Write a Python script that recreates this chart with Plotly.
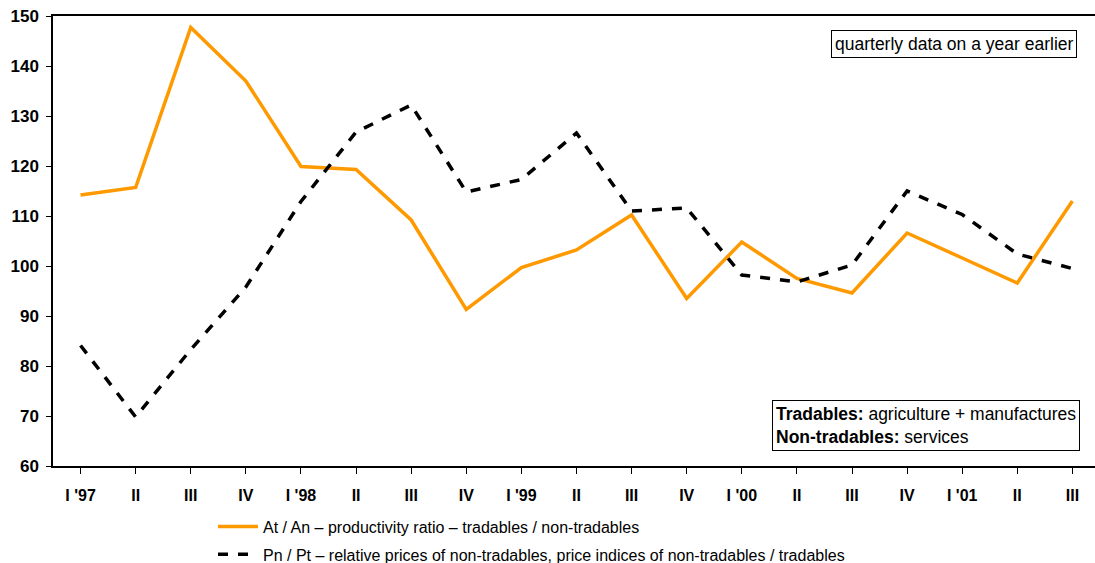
import plotly.graph_objects as go

# Quarterly categories, 1997 Q1 to 2001 Q3
quarters = ["I '97", "II", "III", "IV", "I '98", "II", "III", "IV", "I '99", "II",
            "III", "IV", "I '00", "II", "III", "IV", "I '01", "II", "III"]

# At / An productivity ratio (same quarter a year earlier = 100)
productivity_ratio = [114.2, 115.7, 147.7, 137.0, 119.9, 119.3, 109.2, 91.3, 99.7, 103.2,
                      110.2, 93.5, 104.8, 97.5, 94.6, 106.6, 101.6, 96.6, 113.0]

# Pn / Pt relative prices of non-tradables
relative_prices = [84.1, 69.8, 83.3, 95.8, 112.9, 126.8, 132.2, 114.8, 117.3, 126.6,
                   111.0, 111.6, 98.2, 96.8, 100.2, 115.0, 110.3, 102.4, 99.5]

y_ticks = [60, 70, 80, 90, 100, 110, 120, 130, 140, 150]

idx = list(range(len(quarters)))

fig = go.Figure()
fig.add_trace(go.Scatter(
    x=idx, y=productivity_ratio, mode="lines", legendgroup="a",
    name="At / An \u2013 productivity ratio \u2013 tradables / non-tradables",
    line=dict(color="#FF9900", width=3.5),
))
fig.add_trace(go.Scatter(
    x=idx, y=relative_prices, mode="lines", legendgroup="b",
    name="Pn / Pt \u2013 relative prices of non-tradables, price indices of non-tradables / tradables",
    line=dict(color="#000000", width=3.5, dash="10px,10px"),
))

fig.update_layout(
    width=1095, height=563,
    margin=dict(l=53, r=0, t=16, b=97, autoexpand=False),
    paper_bgcolor="white", plot_bgcolor="white",
    font=dict(family="Liberation Sans, Arial, sans-serif", color="black"),
    showlegend=True,
    legend=dict(
        x=(213 - 53) / 1042, xanchor="left",
        y=-0.097, yanchor="top",
        font=dict(family="Liberation Sans, Arial", size=16),
        bgcolor="rgba(0,0,0,0)", tracegroupgap=4,
        itemwidth=40,
    ),
    xaxis=dict(
        range=[-0.5, 18.41],
        tickmode="array", tickvals=idx, ticktext=quarters,
        tickson="boundaries",
        ticks="outside", ticklen=6, tickcolor="black", tickwidth=1,
        ticklabelstandoff=8,
        showline=True, linecolor="black", linewidth=1.5, mirror=True,
        showgrid=False, zeroline=False,
        tickfont=dict(family="Liberation Sans, Arial", size=16, color="black", weight="bold"),
    ),
    yaxis=dict(
        range=[60, 150], tickvals=y_ticks,
        ticks="outside", ticklen=5, tickcolor="black", tickwidth=1,
        ticklabelstandoff=4,
        showline=True, linecolor="black", linewidth=1.5,
        showgrid=False, zeroline=False,
        tickfont=dict(family="Liberation Sans, Arial", size=17, color="black", weight="bold"),
    ),
)

fig.add_annotation(
    xref="paper", yref="paper", x=(1077 - 53) / 1042, y=1 - (30 - 16) / 450,
    xanchor="right", yanchor="top", showarrow=False,
    text="quarterly data on a year earlier",
    font=dict(family="Liberation Sans, Arial", size=17.5, color="black"),
    bordercolor="black", borderwidth=1, borderpad=3, bgcolor="white",
)
fig.add_annotation(
    xref="paper", yref="paper", x=(772 - 53) / 1042, y=1 - (400 - 16) / 450,
    xanchor="left", yanchor="top", showarrow=False, align="left",
    text="<b>Tradables:</b> agriculture + manufactures<br><b>Non-tradables:</b> services",
    font=dict(family="Liberation Sans, Arial", size=17.5, color="black"),
    bordercolor="black", borderwidth=1, borderpad=3, bgcolor="white",
)

fig.write_html("out.html")
